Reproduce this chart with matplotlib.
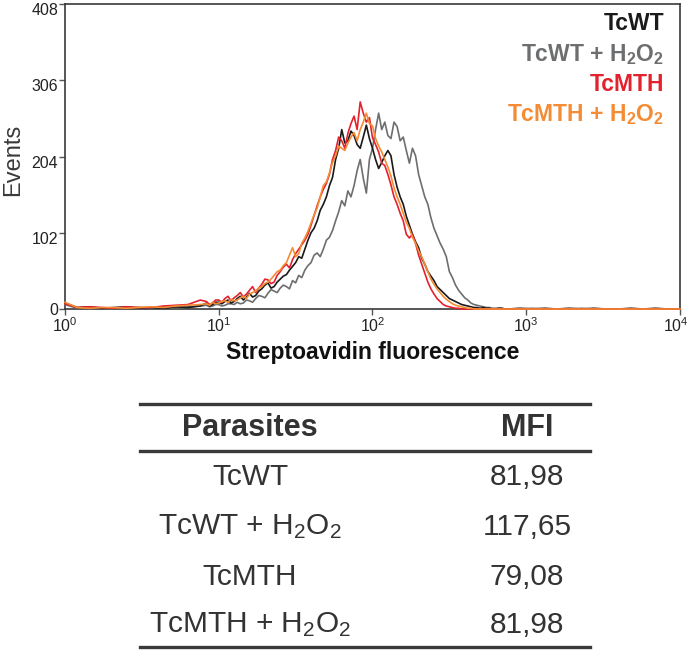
import matplotlib
matplotlib.use('Agg')
import matplotlib.pyplot as plt
import numpy as np
from matplotlib.lines import Line2D
from matplotlib.ticker import FixedLocator, FuncFormatter
from matplotlib.transforms import ScaledTranslation

plt.rcParams['font.family'] = ['Liberation Sans', 'DejaVu Sans']
plt.rcParams['mathtext.fontset'] = 'custom'
plt.rcParams['mathtext.rm'] = 'Liberation Sans'
plt.rcParams['mathtext.bf'] = 'Liberation Sans:bold'
plt.rcParams['mathtext.it'] = 'Liberation Sans:italic'

# histogram channels in log10(fluorescence): low tail, peak region, high tail
log_low = np.linspace(0.0, 0.88, 12)
log_mid = np.linspace(0.92, 2.88, 99)
log_high = np.linspace(2.96, 4.0, 14)

# events per channel
tcwt_low = [8, 2, 3, 1, 2, 3, 1, 2, 1, 3, 2, 4]
tcwt_mid = [8, 4, 6, 9, 9, 7, 10, 12, 8, 10,
            14, 17, 12, 16, 21, 16, 18, 24, 27, 32,
            35, 28, 30, 36, 40, 44, 46, 52, 57, 62,
            70, 68, 80, 92, 102, 108, 118, 132, 140, 150,
            165, 176, 200, 215, 240, 222, 225, 238, 232, 220,
            215, 230, 246, 228, 215, 200, 188, 196, 205, 212,
            205, 180, 163, 150, 140, 124, 112, 100, 90, 82,
            68, 60, 50, 44, 38, 30, 26, 22, 18, 14,
            12, 10, 8, 6, 5, 4, 3, 2, 2, 1,
            2, 1, 1, 0, 0, 1, 1, 0, 0]
tcwt_high = [1, 0, 1, 0, 1, 0, 1, 0, 0, 1, 0, 1, 0, 0]

tcwt_h2o2_low = [6, 1, 2, 1, 1, 2, 2, 1, 3, 2, 3, 4]
tcwt_h2o2_mid = [5, 3, 4, 6, 6, 4, 5, 7, 7, 6,
                 9, 7, 8, 12, 11, 9, 14, 18, 17, 15,
                 21, 26, 24, 22, 28, 32, 30, 27, 38, 35,
                 45, 42, 52, 58, 62, 72, 75, 70, 80, 92,
                 96, 105, 118, 130, 145, 138, 158, 150, 165, 185,
                 200, 175, 155, 200, 215, 240, 262, 240, 250, 232,
                 228, 250, 244, 225, 230, 212, 195, 215, 205, 180,
                 165, 150, 140, 122, 108, 98, 88, 80, 70, 50,
                 42, 32, 25, 20, 15, 12, 8, 6, 5, 4,
                 3, 2, 2, 1, 1, 1, 1, 0, 0]
tcwt_h2o2_high = [0, 1, 0, 0, 0, 1, 0, 0, 0, 0, 0, 0, 0, 0]

tcmth_low = [7, 2, 3, 2, 1, 3, 2, 2, 4, 5, 6, 12]
tcmth_mid = [10, 6, 8, 12, 12, 9, 14, 17, 11, 15,
             18, 22, 16, 20, 25, 30, 22, 28, 33, 40,
             39, 34, 36, 45, 50, 56, 60, 55, 66, 74,
             80, 86, 92, 100, 112, 125, 138, 150, 160, 168,
             180, 200, 212, 230, 225, 215, 235, 248, 258, 240,
             277, 262, 250, 256, 229, 220, 210, 195, 192, 180,
             166, 150, 140, 128, 118, 100, 95, 100, 88, 72,
             60, 48, 36, 27, 20, 14, 10, 6, 4, 3,
             2, 1, 1, 0, 0, 0, 0, 0, 0, 0,
             0, 0, 0, 0, 0, 0, 0, 0, 0]
tcmth_high = [0, 0, 0, 0, 0, 0, 0, 0, 0, 0, 0, 0, 0, 0]

tcmth_h2o2_low = [9, 2, 1, 2, 2, 1, 2, 3, 2, 4, 5, 6]
tcmth_h2o2_mid = [7, 5, 9, 7, 8, 10, 11, 9, 13, 11,
                  12, 15, 17, 14, 20, 22, 24, 28, 30, 34,
                  36, 40, 45, 50, 52, 58, 62, 72, 82, 70,
                  74, 88, 95, 104, 115, 126, 135, 150, 165, 170,
                  182, 196, 205, 218, 215, 212, 222, 230, 236, 225,
                  240, 250, 262, 248, 245, 228, 218, 210, 200, 190,
                  178, 162, 150, 140, 128, 116, 108, 96, 88, 78,
                  70, 60, 50, 40, 33, 27, 22, 17, 13, 10,
                  7, 5, 4, 3, 2, 1, 1, 0, 0, 0,
                  0, 0, 0, 0, 0, 0, 0, 0, 0]
tcmth_h2o2_high = [0, 0, 0, 0, 0, 0, 0, 0, 0, 0, 0, 0, 0, 0]

labels = ['TcWT', 'TcWT + H$_\\mathbf{2}$O$_\\mathbf{2}$', 'TcMTH',
          'TcMTH + H$_\\mathbf{2}$O$_\\mathbf{2}$']
colors = ['#1a1a1a', '#6d6e70', '#e3222d', '#f48b35']

# table
parasites = ['TcWT', 'TcWT + H$_2$O$_2$', 'TcMTH', 'TcMTH + H$_2$O$_2$']
mfi = [81.98, 117.65, 79.08, 81.98]

log_all = np.concatenate([log_low, log_mid, log_high])
series = [tcwt_low + tcwt_mid + tcwt_high,
          tcwt_h2o2_low + tcwt_h2o2_mid + tcwt_h2o2_high,
          tcmth_low + tcmth_mid + tcmth_high,
          tcmth_h2o2_low + tcmth_h2o2_mid + tcmth_h2o2_high]

fig = plt.figure(figsize=(6.9, 6.54), dpi=100)
ax = fig.add_axes([0.0942, 0.5275, 0.8913, 0.4664])

# gray first so the others sit on top of it
for k in [1, 0, 2, 3]:
    ax.plot(10 ** log_all, series[k], color=colors[k], lw=1.2,
            zorder=3, clip_on=False)

ax.set_xscale('log')
ax.set_xlim(1, 1e4)
ax.set_ylim(0, 408)
ax.yaxis.set_major_locator(FixedLocator([0, 102, 204, 306, 408]))
ax.xaxis.set_major_locator(FixedLocator([1, 10, 100, 1000, 10000]))
ax.xaxis.set_minor_locator(FixedLocator([]))
ax.xaxis.set_major_formatter(FuncFormatter(
    lambda v, p: '$\\mathregular{10^{%d}}$' % round(np.log10(v))))

for s in ax.spines.values():
    s.set_color('#3a3a3a')
    s.set_linewidth(1.2)
ax.tick_params(axis='both', direction='out', length=4, width=1,
               color='#555555', labelsize=11.5, labelcolor='#222222', pad=1)

# y labels sit a little under their ticks, 10^4 kept inside the figure
for lbl in ax.get_yticklabels()[1:]:
    lbl.set_transform(lbl.get_transform() +
                      ScaledTranslation(0, -5 / 100, fig.dpi_scale_trans))
last = ax.get_xticklabels()[-1]
last.set_transform(last.get_transform() +
                   ScaledTranslation(-4 / 100, 0, fig.dpi_scale_trans))

ax.set_ylabel('Events', fontsize=17, color='#3a3a3a', va='center')
ax.yaxis.set_label_coords(-0.085, 0.49)
ax.set_xlabel('Streptoavidin fluorescence', fontsize=16.5, fontweight='bold',
              color='#111111')
ax.xaxis.label.set_verticalalignment('center')
ax.xaxis.set_label_coords(0.5, -0.141)

legend_y = [0.915, 0.813, 0.715, 0.616]
for lab, c, yy in zip(labels, colors, legend_y):
    ax.text(0.974, yy, lab, transform=ax.transAxes, ha='right',
            va='baseline', fontsize=16.5, fontweight='bold', color=c)

# MFI table below the histogram
x0, x1 = 140 / 690, 590 / 690
for yy in [0.3823, 0.3104, 0.0107]:
    fig.add_artist(Line2D([x0, x1], [yy, yy], transform=fig.transFigure,
                          color='#3a3a3a', lw=2.4))

col1, col2 = 250 / 690, 527 / 690
fig.text(col1, 0.3456, 'Parasites', ha='center', va='center', fontsize=22,
         fontweight='bold', color='#333333')
fig.text(col2, 0.3456, 'MFI', ha='center', va='center', fontsize=22,
         fontweight='bold', color='#333333')
row_y = [0.2706, 0.1942, 0.1177, 0.0443]
for name, v, yy in zip(parasites, mfi, row_y):
    fig.text(col1, yy, name, ha='center', va='center', fontsize=21.5,
             color='#333333')
    fig.text(col2, yy, ('%.2f' % v).replace('.', ','), ha='center',
             va='center', fontsize=21.5, color='#333333')

fig.savefig('out.png', dpi=100)
